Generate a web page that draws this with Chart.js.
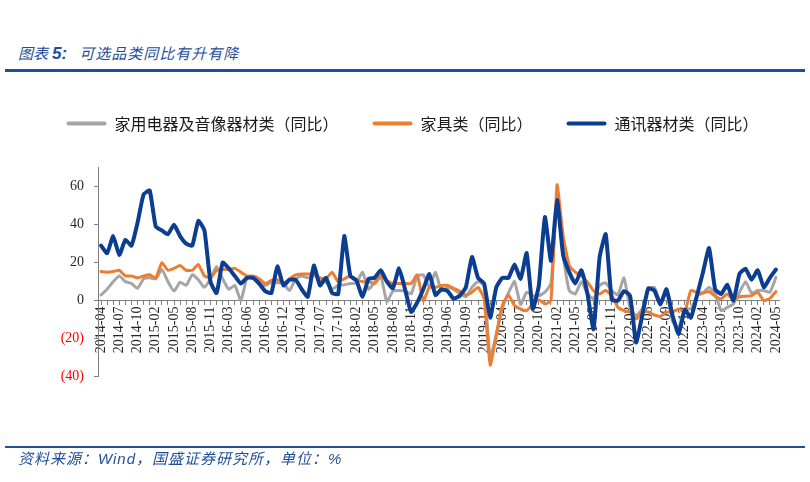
<!DOCTYPE html>
<html><head><meta charset="utf-8">
<script src="https://cdn.jsdelivr.net/npm/chart.js@4.4.1/dist/chart.umd.min.js"></script>
<style>
html,body{margin:0;padding:0;background:#fff;}
#wrap{position:relative;width:810px;height:482px;overflow:hidden;background:#fff;}
#c{position:absolute;left:0;top:0;}
.rule{position:absolute;left:5px;width:800px;background:#1F4E9A;}
#title{position:absolute;left:18px;top:43px;font-family:"Noto Sans CJK SC";font-style:italic;font-size:15px;line-height:20px;color:#1F4E9A;white-space:nowrap;}
#title .n{font-family:"Liberation Sans";font-weight:bold;font-size:17px;margin-left:4px;margin-right:12px;}
#title .t{letter-spacing:1px;}
#foot{position:absolute;left:18px;top:448px;font-family:"Noto Sans CJK SC";font-style:italic;font-size:15px;line-height:20px;color:#1F4E9A;white-space:nowrap;letter-spacing:1px;}
#foot .w{font-family:"Liberation Sans";}
</style></head>
<body><div id="wrap">
<div id="title">图表<span class="n">5:</span><span class="t">可选品类同比有升有降</span></div>
<div class="rule" style="top:69px;height:3px"></div>
<canvas id="c" width="810" height="482"></canvas>
<div class="rule" style="top:446px;height:2px"></div>
<div id="foot">资料来源：<span class="w">Wind</span>，国盛证券研究所，单位：<span class="w">%</span></div>
</div>
<script>
const months = [
'2014-04','2014-05','2014-06','2014-07','2014-08','2014-09','2014-10','2014-11','2014-12',
'2015-02','2015-03','2015-04','2015-05','2015-06','2015-07','2015-08','2015-09','2015-10','2015-11','2015-12',
'2016-02','2016-03','2016-04','2016-05','2016-06','2016-07','2016-08','2016-09','2016-10','2016-11','2016-12',
'2017-02','2017-03','2017-04','2017-05','2017-06','2017-07','2017-08','2017-09','2017-10','2017-11','2017-12',
'2018-02','2018-03','2018-04','2018-05','2018-06','2018-07','2018-08','2018-09','2018-10','2018-11','2018-12',
'2019-02','2019-03','2019-04','2019-05','2019-06','2019-07','2019-08','2019-09','2019-10','2019-11','2019-12',
'2020-02','2020-03','2020-04','2020-05','2020-06','2020-07','2020-08','2020-09','2020-10','2020-11','2020-12',
'2021-02','2021-03','2021-04','2021-05','2021-06','2021-07','2021-08','2021-09','2021-10','2021-11','2021-12',
'2022-02','2022-03','2022-04','2022-05','2022-06','2022-07','2022-08','2022-09','2022-10','2022-11','2022-12',
'2023-02','2023-03','2023-04','2023-05','2023-06','2023-07','2023-08','2023-09','2023-10','2023-11','2023-12',
'2024-02','2024-03','2024-04','2024-05'];

const seriesNames = ['家用电器及音像器材类（同比）', '家具类（同比）', '通讯器材类（同比）'];

const appliance = [
3, 6, 10, 13, 10, 9, 6.5, 11.5, 12,
11.5, 16.4, 10, 5, 9.7, 8, 13.6, 11, 7, 11.5, 18,
11.5, 6, 8, 0, 12, 12, 10.6, 8, 9.7, 9.4, 9,
5.3, 11.5, 13, 12, 13.6, 10.6, 9.7, 6, 8, 8.3, 9,
9.4, 15, 6, 9.7, 13, -0.5, 5, 5.3, 5, 3.5, 13,
13.6, 7, 15, 5, 7, 6, 3.5, 2, 7, 10, 8,
-30, -18, -4, 4, 10, -2, 4.4, 2.6, 2.6, 4.4, 9,
52, 24, 5.3, 3.5, 10, 3.5, 1, 8, 9.4, 5.3, 3,
12, -3.5, -8, -4.4, 6, 7, -1, 4.4, -11, -14, -4.4,
-4.4, 2.6, 4, 7, 3.5, -5.3, -3.5, -1.8, 4.4, 10, 4,
5.3, 5.3, 4.4, 12.3];

const furniture = [
15.3, 15, 15.3, 16, 13, 13, 12, 13, 13.6,
12, 20, 16, 17, 18.5, 16, 16, 19, 13, 12, 16,
16.4, 16.4, 17, 15, 13, 13, 11.5, 9, 10.6, 11, 9,
11.5, 13.6, 14, 14, 14, 12, 11.5, 15, 10, 11.5, 13,
11, 10, 10, 9, 13, 10.6, 9, 9, 9, 9, 13.6,
0, 7, 7, 8, 8, 6.5, 5, 3, 4.4, 7, 1,
-34, -18, -2.6, 3, -2.6, -4.4, -5.3, -1.8, 0.5, -1.8, 0,
61, 34, 18.5, 15, 13, 9.7, 5.3, 3.5, 5.3, 2.6, -3.5,
-5.3, -6, -9.7, -6, -6, -7.6, -8.3, -6, -6, -4.4, -6,
5.3, 4.4, 4, 4.8, 2.3, 1, 3.5, 0.5, 2, 2.3, 2.6,
4.4, 0, 1.2, 4.8];

const telecom = [
29, 25, 34, 24, 32, 29, 41, 56, 58,
39, 37, 35, 40, 34, 30, 29, 42, 37, 10, 4,
20, 17, 13, 9, 12, 12, 9, 5, 4, 18, 8,
11, 11, 6, 2, 18.5, 8, 12, 4, 3.5, 34, 13,
10.6, 2, 11.5, 12, 16, 10, 6.5, 17, 6, -6, -1,
6, 14, 3, 6, 5, 1, 2.6, 7, 23, 12, 9,
-9, 7, 12, 12, 19, 11.5, 25, -4.4, 8, 44, 21,
53, 24, 15, 9, 16, 3.5, -15, 23, 35, 0.5, 0,
5, 2.6, -22, -8, 6.5, 5.3, -2, 6, -8, -17.6, -4.8,
-9, 2.6, 15, 27.7, 6, 3.5, 8.3, 0, 14, 16.8, 11,
16, 7, 12, 16.4];

const yTicks = [-40, -20, 0, 20, 40, 60];
const colors = ['#A5A5A5', '#ED7D31', '#0B3D91'];

const tickFont = {family: '"Liberation Serif"', size: 14};

new Chart(document.getElementById('c'), {
  type: 'line',
  data: {
    labels: months,
    datasets: [
      {label: seriesNames[0], data: appliance, borderColor: colors[0], backgroundColor: colors[0], borderWidth: 3, order: 3},
      {label: seriesNames[1], data: furniture, borderColor: colors[1], backgroundColor: colors[1], borderWidth: 3, order: 2},
      {label: seriesNames[2], data: telecom, borderColor: colors[2], backgroundColor: colors[2], borderWidth: 4, order: 1}
    ]
  },
  options: {
    responsive: false,
    animation: false,
    elements: {
      point: {radius: 0, hoverRadius: 0},
      line: {tension: 0.15, borderJoinStyle: 'round', borderCapStyle: 'round', fill: false}
    },
    layout: {padding: {top: 81.5, left: 15, right: 0, bottom: 105.5}},
    plugins: {
      tooltip: {enabled: false},
      legend: {
        position: 'top',
        labels: {
          boxWidth: 40, boxHeight: 4, padding: 34, color: '#1a1a1a',
          font: {family: '"Noto Sans CJK SC"', size: 16},
          generateLabels: ch => ch.data.datasets.map((d, i) => ({
            text: d.label, fillStyle: d.borderColor, strokeStyle: d.borderColor,
            lineWidth: 0, borderRadius: 2, datasetIndex: i, hidden: false, fontColor: '#1a1a1a'
          }))
        }
      },
      title: {display: true, text: ' ', weight: 500, position: 'top', font: {size: 12, lineHeight: 1}, padding: {top: 14.3, bottom: 0}}
    },
    scales: {
      x: {
        type: 'category',
        position: {y: 0},
        offset: true,
        grid: {display: true, drawOnChartArea: false, drawTicks: true, tickLength: 4, color: '#7f7f7f'},
        border: {display: true, color: '#7f7f7f', width: 1},
        ticks: {
          autoSkip: false, maxRotation: 90, minRotation: 90, padding: 2,
          font: tickFont, color: '#262626',
          callback: (v, i) => (i % 3 === 0 ? months[i] : '')
        },
        afterFit: s => { s.paddingLeft = 0; s.paddingRight = 0; }
      },
      y: {
        min: -40, max: 70,
        position: 'left',
        afterBuildTicks: a => { a.ticks = yTicks.map(v => ({value: v})); },
        grid: {drawOnChartArea: false, tickLength: 4, color: '#7f7f7f'},
        border: {display: true, color: '#7f7f7f', width: 1},
        ticks: {
          padding: 10, font: tickFont,
          color: c => (c.tick && c.tick.value < 0 ? '#FF0000' : '#262626'),
          callback: v => (v < 0 ? '(' + (-v) + ')' : String(v))
        },
        afterFit: s => { s.width = 83; s.paddingTop = 0; s.paddingBottom = 0; }
      },
      spacer: {
        type: 'linear',
        position: 'right',
        grid: {display: false, drawTicks: false},
        border: {display: false},
        ticks: {display: false},
        afterFit: s => { s.width = 31; s.paddingTop = 0; s.paddingBottom = 0; }
      }
    }
  }
});
</script>
</body></html>
